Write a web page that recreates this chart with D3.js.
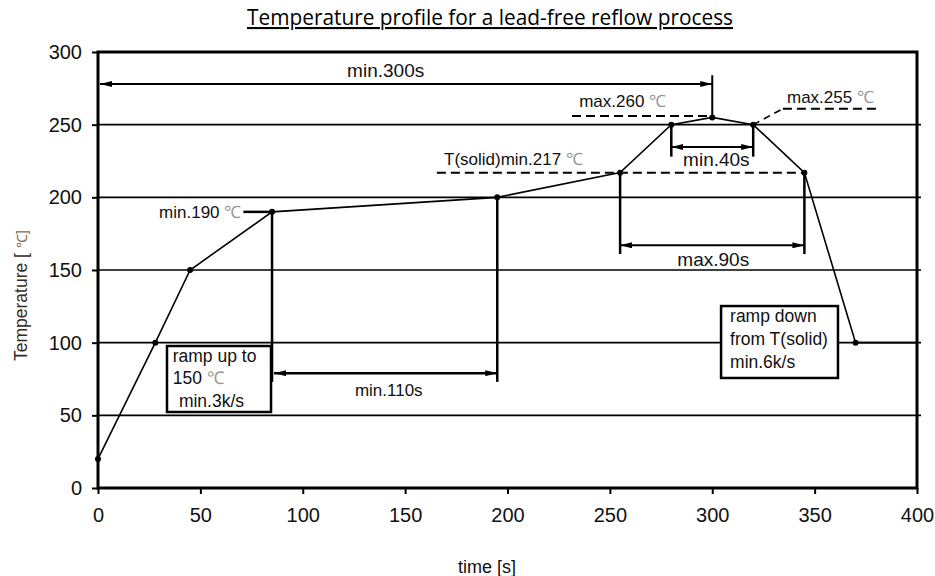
<!DOCTYPE html>
<html><head><meta charset="utf-8">
<script src="https://cdn.jsdelivr.net/npm/d3@7"></script>
<style>body{margin:0;background:#fff}svg{display:block}</style>
</head><body><svg id="c" width="935" height="576"></svg>
<script>
// ---- data ----
const timeS = [0, 28, 45, 85, 195, 255, 280, 300, 320, 345, 370, 400];
const tempC = [20, 100, 150, 190, 200, 217, 250, 255, 250, 217, 100, 100];
const markerFlags = [1,1,1,1,1,1,1,1,1,1,1,0];
const xTicks = [0,50,100,150,200,250,300,350,400];
const yTicks = [0,50,100,150,200,250,300];
const gridLevels = [50,100,150,200,250];
const title = "Temperature profile for a lead-free reflow process";
const xLabel = "time [s]";
const yLabel = "Temperature";

const svg = d3.select("#c");
const x = d3.scaleLinear().domain([0,400]).range([98,917]);
const y = d3.scaleLinear().domain([0,300]).range([488,52]);
const F = "'Liberation Sans', Arial, sans-serif";
const deg = "\u2103";

// defs arrow markers
const defs = svg.append("defs");
function mk(id, orient){
  defs.append("marker").attr("id",id).attr("viewBox","0 0 12 6").attr("refX",12).attr("refY",3)
    .attr("markerWidth",12).attr("markerHeight",6).attr("markerUnits","userSpaceOnUse").attr("orient",orient)
    .append("path").attr("d","M0,0 L12,3 L0,6 Z").attr("fill","#000");
}
mk("ae","auto"); mk("as","auto-start-reverse");

// gridlines
svg.append("g").selectAll("line").data(gridLevels).join("line")
  .attr("x1",x(0)).attr("x2",x(400)+4).attr("y1",d=>y(d)).attr("y2",d=>y(d))
  .attr("stroke","#000").attr("stroke-width",1.6);

// axes
const xa = svg.append("g").attr("transform",`translate(0,${y(0)})`)
  .call(d3.axisBottom(x).tickValues(xTicks).tickSize(6).tickPadding(14).tickFormat(d3.format("d")));
const ya = svg.append("g").attr("transform",`translate(${x(0)},0)`)
  .call(d3.axisLeft(y).tickValues(yTicks).tickSize(6).tickPadding(10).tickFormat(d3.format("d")));
[xa,ya].forEach(a=>{
  a.select(".domain").remove();
  a.selectAll("line").attr("stroke","#000").attr("stroke-width",2);
  a.selectAll("text").attr("font-family",F).attr("font-size",20).attr("fill","#111");
});
// frame
svg.append("rect").attr("x",x(0)).attr("y",y(300)).attr("width",x(400)-x(0)).attr("height",y(0)-y(300))
  .attr("fill","none").attr("stroke","#000").attr("stroke-width",3);

// titles
svg.append("text").attr("x",490).attr("y",25).attr("text-anchor","middle")
  .attr("font-family","'Open Sans', sans-serif").attr("font-size",21)
  .attr("textLength",486).attr("lengthAdjust","spacingAndGlyphs")
  .attr("text-decoration","underline").attr("fill","#000").text(title);
svg.append("text").attr("x",487).attr("y",573).attr("text-anchor","middle")
  .attr("font-family",F).attr("font-size",18).attr("fill","#111").text(xLabel);
const yl = svg.append("text").attr("transform","translate(27,361) rotate(-90)")
  .attr("font-family",F).attr("font-size",17.5).attr("fill","#3a2a22");
yl.append("tspan").text(yLabel+"  [ ");
yl.append("tspan").attr("fill","#8a6a50").attr("font-size",14).text(deg+"]");

// annotation helpers
function seg(x1,y1,x2,y2,w,opts={}){
  const l = svg.append("line").attr("x1",x(x1)).attr("y1",y(y1)).attr("x2",x(x2)).attr("y2",y(y2))
    .attr("stroke","#000").attr("stroke-width",w);
  if(opts.dash) l.attr("stroke-dasharray",opts.dash);
  if(opts.start) l.attr("marker-start","url(#as)");
  if(opts.end) l.attr("marker-end","url(#ae)");
  return l;
}
function label(tx,ty,str,size,anchor,unit){
  const t = svg.append("text").attr("x",x(tx)).attr("y",y(ty)).attr("text-anchor",anchor||"start")
    .attr("font-family",F).attr("font-size",size).attr("fill","#111");
  t.append("tspan").text(str);
  if(unit) t.append("tspan").attr("fill","#999").attr("font-size",size).text(" "+deg);
  return t;
}

// dashed reference lines
seg(165.5,217,345,217,2,{dash:"9,5"});
seg(231.5,256,300,256,2,{dash:"9,5"});
seg(320,250,334.5,261,1.6,{dash:"7,5"});
seg(334.5,261,382,261,2,{dash:"9,5"});

// min.300s
seg(1,278,300,278,2,{start:true,end:true});
seg(300,284,300,255,2);
label(140.5,283,"min.300s",19,"middle");
label(235,262,"max.260",17,"start",true);
label(336.5,265,"max.255",17,"start",true);
label(169,222.5,"T(solid)min.217",17,"start",true);

// min.40s
seg(280,250,280,228,2.5); seg(320,250,320,228,2.5);
seg(280,234.6,320,234.6,2,{start:true,end:true});
label(302,221.5,"min.40s",19,"middle");

// max.90s
seg(255,217,255,161,2.5); seg(345,217,345,161,2.5);
seg(255,167,345,167,2,{start:true,end:true});
label(300.5,153,"max.90s",19,"middle");

// min.190
seg(71,190,85,190,2.5);
label(70,186,"min.190",17,"end",true);
seg(85,190,85,73,2.5);
seg(195,200,195,73,2.5);
seg(86,79,195,79,2.5,{start:true,end:true});
label(142,63,"min.110s",17,"middle");

// profile line
const pts = timeS.map((t,i)=>({t,v:tempC[i],m:markerFlags[i]}));
svg.append("path").datum(pts).attr("fill","none").attr("stroke","#000").attr("stroke-width",1.6)
  .attr("d",d3.line().x(d=>x(d.t)).y(d=>y(d.v)));
svg.append("g").selectAll("circle").data(pts.filter(d=>d.m)).join("circle")
  .attr("cx",d=>x(d.t)).attr("cy",d=>y(d.v)).attr("r",3).attr("fill","#000");

// boxes
function box(x0,x1,y0,y1,lines){
  svg.append("rect").attr("x",x(x0)).attr("y",y(y0)).attr("width",x(x1)-x(x0)).attr("height",y(y1)-y(y0))
    .attr("fill","#fff").attr("stroke","#000").attr("stroke-width",2.5);
  lines.forEach(l=>{
    const t = svg.append("text").attr("x",x(l.x)).attr("y",y(l.y)).attr("font-family",F).attr("font-size",17.5).attr("fill","#111");
    t.append("tspan").text(l.s);
    if(l.u) t.append("tspan").attr("fill","#999").text(deg);
  });
}
box(33.7,84.5,97.7,52.3,[
  {x:36.5,y:86.8,s:"ramp up to"},
  {x:36.5,y:71.5,s:"150 ",u:true},
  {x:39.5,y:55.7,s:"min.3k/s"}]);
box(304.3,361.4,125.2,75.7,[
  {x:308.7,y:114,s:"ramp down"},
  {x:308.7,y:98.2,s:"from T(solid)"},
  {x:308.7,y:82.5,s:"min.6k/s"}]);
</script></body></html>
